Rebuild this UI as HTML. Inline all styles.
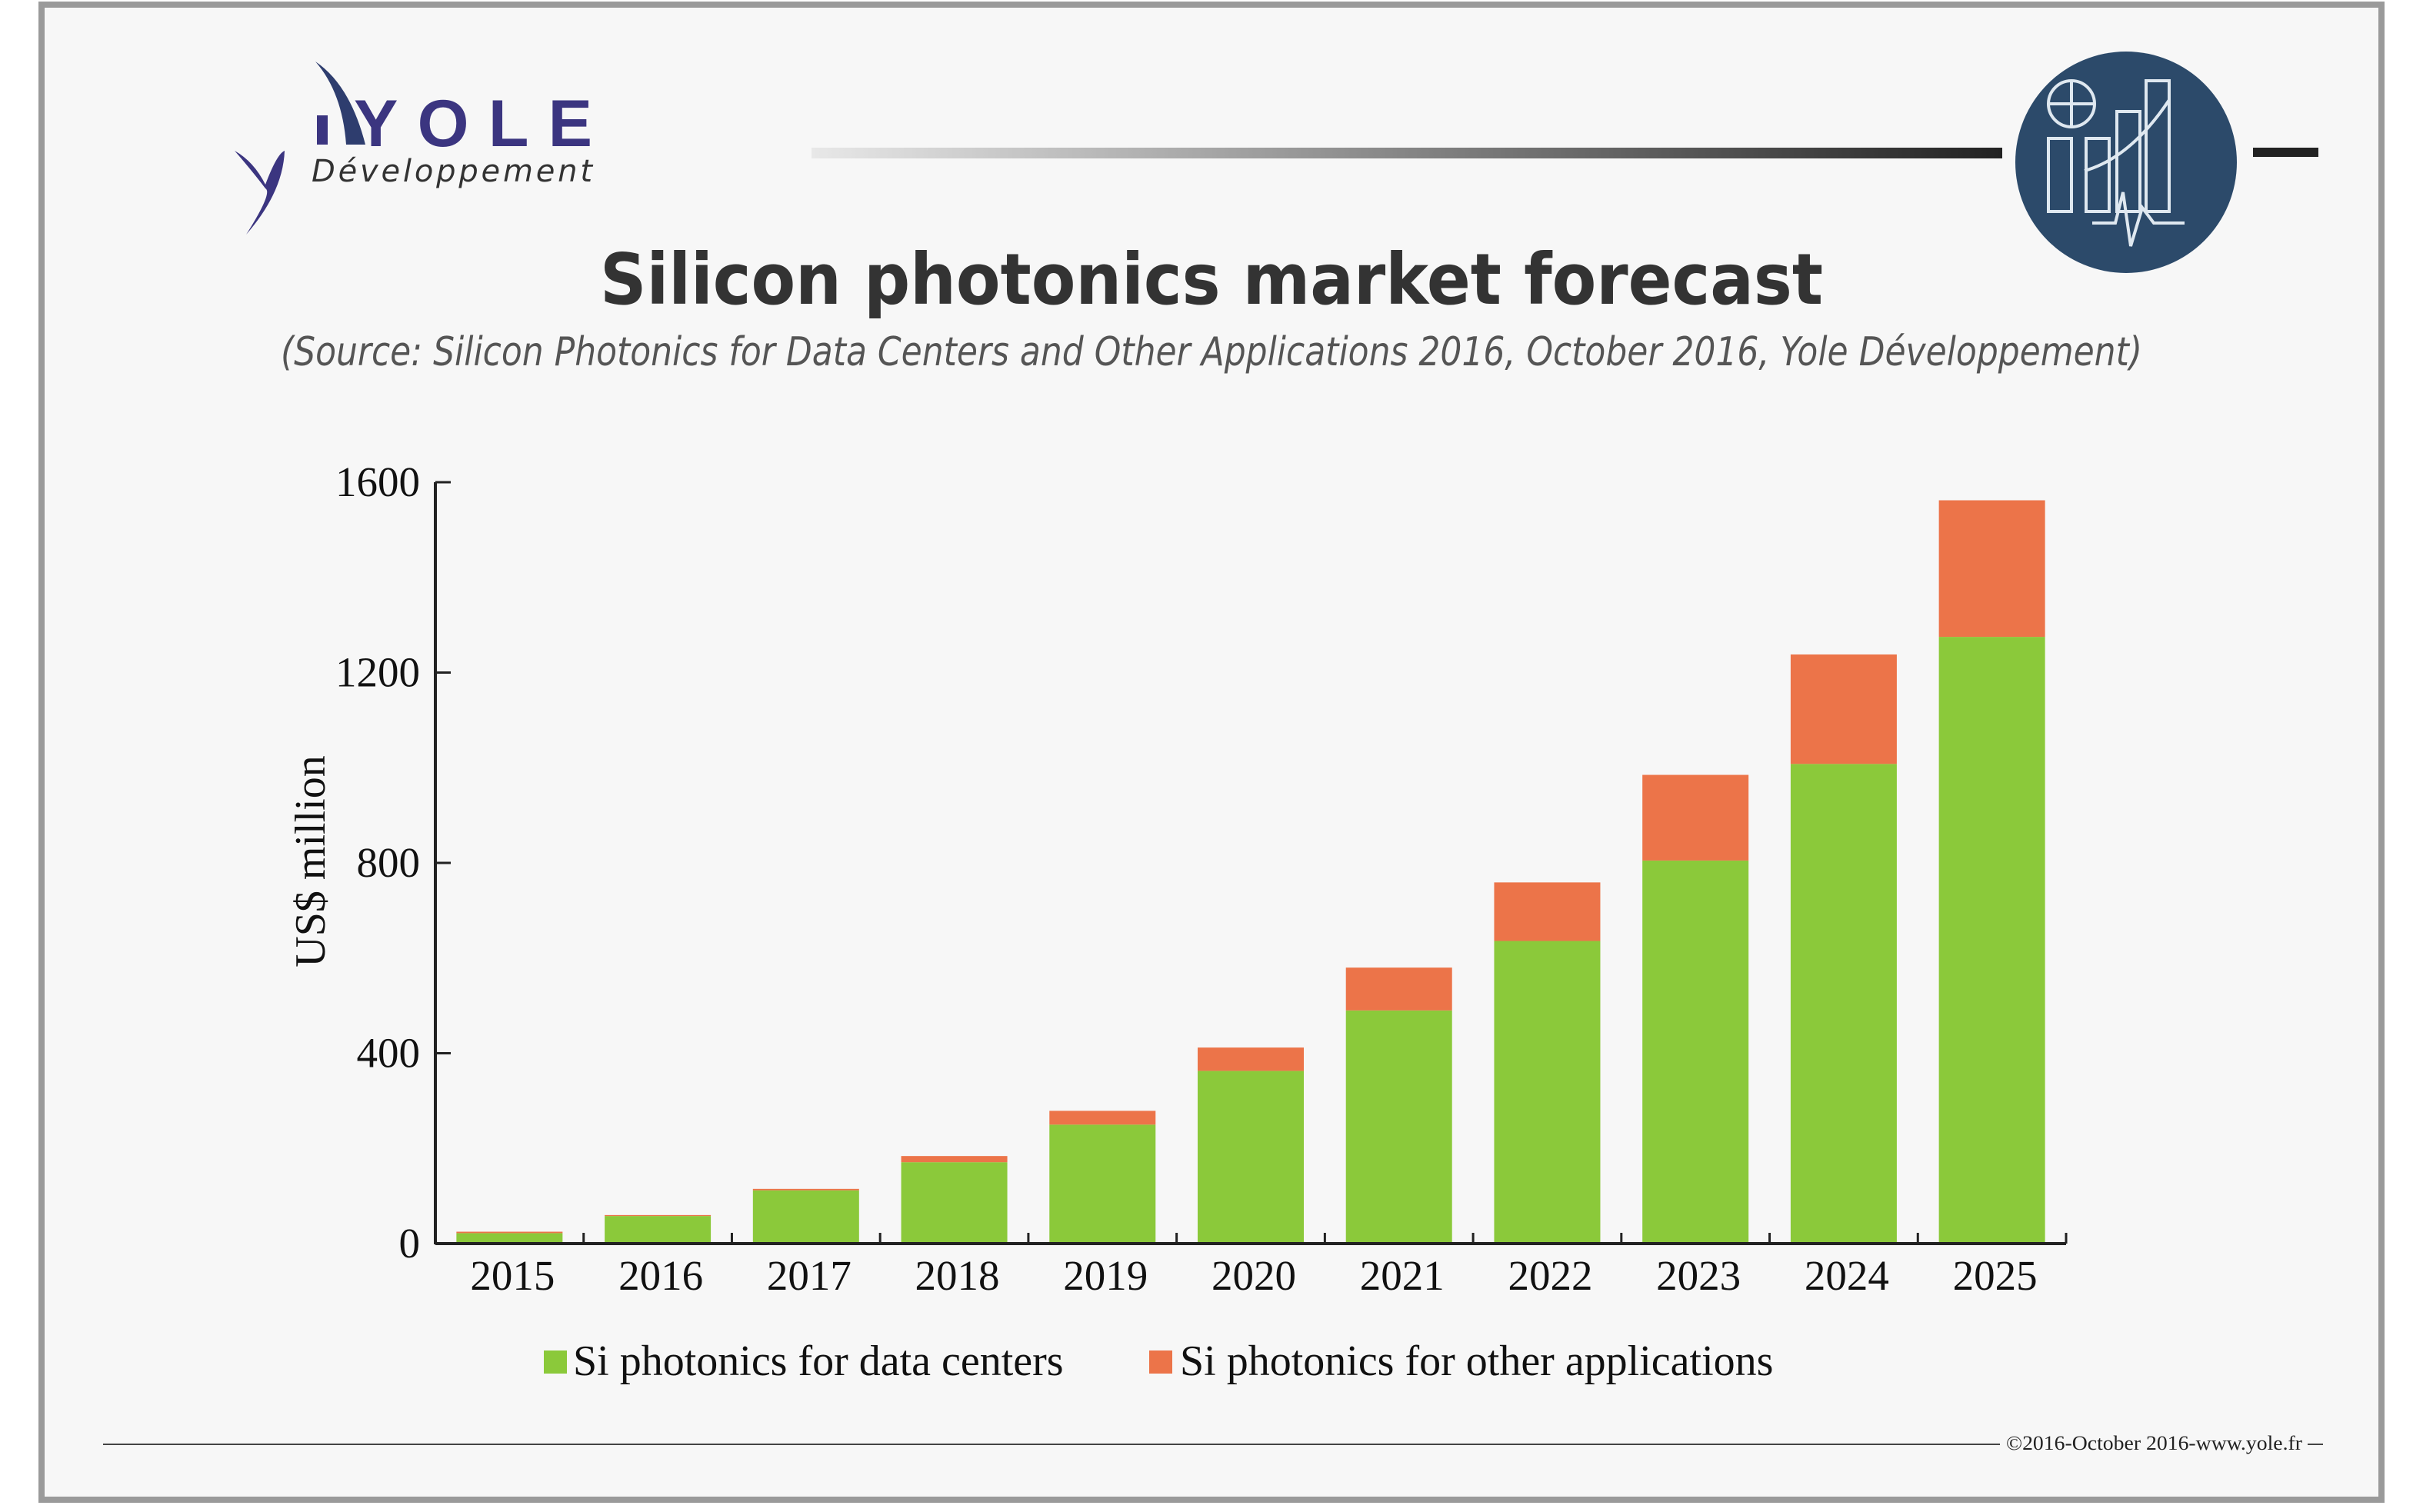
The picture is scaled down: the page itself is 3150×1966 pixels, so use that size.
<!DOCTYPE html>
<html><head><meta charset="utf-8"><style>
html,body{margin:0;padding:0;background:#fff}
body{width:3150px;height:1961px;position:relative;overflow:hidden;font-family:"Liberation Serif",serif}
</style></head><body>
<svg width="3150" height="1961" viewBox="0 0 3150 1961" xmlns="http://www.w3.org/2000/svg">
<defs>
<linearGradient id="hg" x1="0" x2="1" y1="0" y2="0"><stop offset="0" stop-color="#e8e8e8"/><stop offset="1" stop-color="#222"/></linearGradient>
</defs>
<rect x="0" y="0" width="3150" height="1961" fill="#ffffff"/>
<rect x="54" y="6" width="3042" height="1944" fill="#f7f7f7" stroke="#9a9a9a" stroke-width="8"/>
<g>
<path d="M305,196 Q330,210 345,240 Q360,200 370,196 Q368,250 320,305 Q355,250 345,245 Q330,225 305,196Z" fill="#3b3580"/>
<path d="M410,80 Q455,110 475,188 L450,188 Q445,120 410,80Z" fill="#2e3d6e"/>
<rect x="412" y="150" width="14" height="38" fill="#3b3580"/>
<text x="460" y="190" font-family="Liberation Sans,sans-serif" font-weight="bold" font-size="86" fill="#3b3580" textLength="310" lengthAdjust="spacing">YOLE</text>
<text x="405" y="236" font-family="DejaVu Sans,sans-serif" font-style="italic" font-size="40" fill="#333" textLength="365" lengthAdjust="spacing">Développement</text>
</g>
<rect x="1055" y="192" width="1548" height="14" fill="url(#hg)"/>
<rect x="2929" y="192" width="85" height="12" fill="#222"/>
<g>
<circle cx="2764" cy="211" r="144" fill="#2c4a6a"/>
<g stroke="#dfe8f0" stroke-width="4" fill="none">
<circle cx="2693" cy="135" r="30"/><line x1="2663" y1="135" x2="2723" y2="135"/><line x1="2693" y1="105" x2="2693" y2="165"/>
<rect x="2663" y="180" width="30" height="95"/><rect x="2712" y="180" width="30" height="95"/><rect x="2752" y="145" width="30" height="130"/><rect x="2790" y="105" width="30" height="170"/>
<path d="M2710,222 Q2770,205 2820,130"/><path d="M2720,290 L2750,290 L2760,250 L2770,320 L2785,270 L2800,290 L2840,290"/>
</g></g>
<text x="1575" y="395" text-anchor="middle" font-family="DejaVu Sans,sans-serif" font-weight="bold" font-size="92" fill="#333" textLength="1590" lengthAdjust="spacingAndGlyphs">Silicon photonics market forecast</text>
<text x="1575" y="475" text-anchor="middle" font-family="DejaVu Sans,sans-serif" font-style="italic" font-size="52" fill="#555" textLength="2420" lengthAdjust="spacingAndGlyphs">(Source: Silicon Photonics for Data Centers and Other Applications 2016, October 2016, Yole Développement)</text>
<g id="plot"></g>
<text transform="translate(422,1120) rotate(-90)" text-anchor="middle" font-size="56" fill="#111">US$ million</text>
<g>
<rect x="707" y="1756" width="30" height="30" fill="#8bc93a"/>
<text x="745" y="1788" font-size="56" fill="#111">Si photonics for data centers</text>
<rect x="1494" y="1756" width="30" height="30" fill="#ec7449"/>
<text x="1534" y="1788" font-size="56" fill="#111">Si photonics for other applications</text>
</g>
<line x1="134" y1="1878" x2="2600" y2="1878" stroke="#444" stroke-width="2"/>
<line x1="3000" y1="1878" x2="3020" y2="1878" stroke="#444" stroke-width="2"/>
<text x="2608" y="1885" font-size="26" fill="#222" textLength="385" lengthAdjust="spacingAndGlyphs">©2016-October 2016-www.yole.fr</text>
</svg>
<script>
const categories=["2015","2016","2017","2018","2019","2020","2021","2022","2023","2024","2025"];
const dataCenters=[22,58,112,171,250,363,490,636,805,1008,1275];
const otherApps=[3,2,3,13,29,49,90,123,180,230,287];
const yTicks=[0,400,800,1200,1600];
const NS="http://www.w3.org/2000/svg";
const g=document.getElementById('plot');
const x0=566,x1=2686,y0=1617,yTop=627,yMax=1600;
const step=(x1-x0)/categories.length,bw=138;
const Y=v=>y0-(v/yMax)*(y0-yTop);
const X=i=>x0+step*i+step/2;
function el(t,a){const e=document.createElementNS(NS,t);for(const k in a)e.setAttribute(k,a[k]);g.appendChild(e);return e;}
categories.forEach((c,i)=>{
  const b1=el('rect',{x:X(i)-bw/2,y:Y(dataCenters[i]),width:bw,height:y0-Y(dataCenters[i]),fill:'#8bc93a'});
  
  
  const top=dataCenters[i]+otherApps[i];
  const b2=el('rect',{x:X(i)-bw/2,y:Y(top),width:bw,height:Y(dataCenters[i])-Y(top),fill:'#ec7449'});
  
  
  const t=el('text',{x:X(i)+4,y:y0+60,'text-anchor':'middle','font-size':55,fill:'#111'});
  t.textContent=c;
  
  
  const tk=el('line',{x1:x0+step*(i+1),x2:x0+step*(i+1),y1:y0,y2:y0-14,stroke:'#222','stroke-width':3});
  
  
});
yTicks.forEach(v=>{
  const l=el('line',{x1:x0,x2:x0+20,y1:Y(v),y2:Y(v),stroke:'#222','stroke-width':3});
  
  
  const t=el('text',{x:x0-20,y:Y(v)+18,'text-anchor':'end','font-size':55,fill:'#111'});
  t.textContent=v;
  
  
});
const ya=el('line',{x1:x0,x2:x0,y1:yTop,y2:y0+1,stroke:'#222','stroke-width':4});


const xa=el('line',{x1:x0,x2:x1,y1:y0,y2:y0,stroke:'#222','stroke-width':4});


</script>
</body></html>
